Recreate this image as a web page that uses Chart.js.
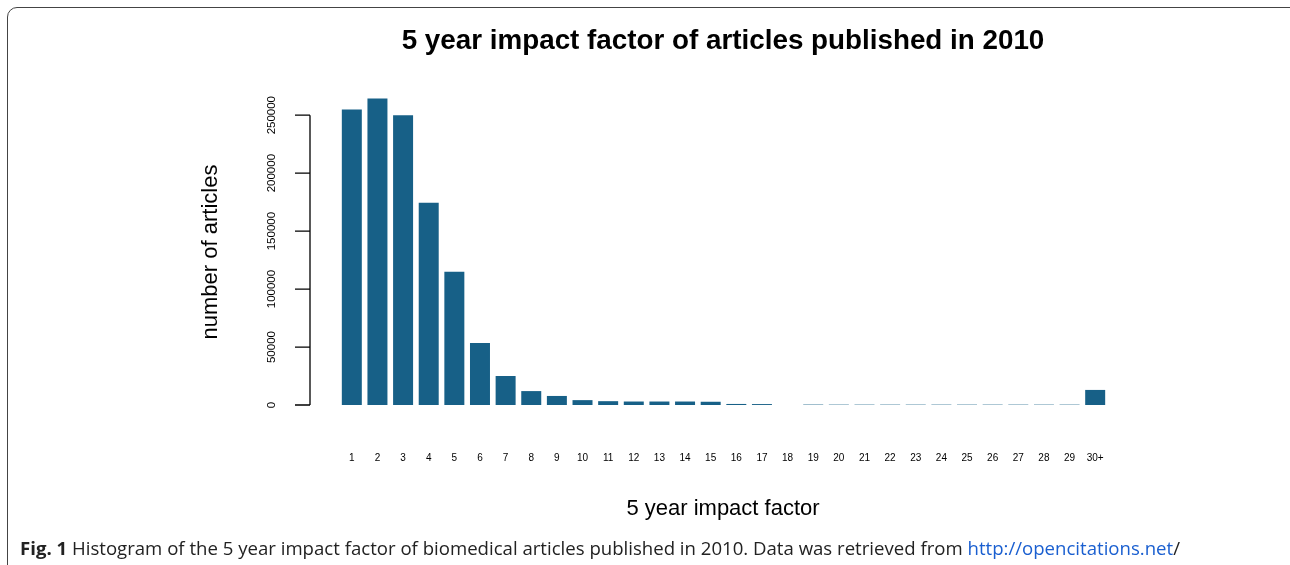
<!DOCTYPE html>
<html>
<head>
<script src="https://cdn.jsdelivr.net/npm/chart.js@4"></script>
<style>
  body { margin: 0; background: #fff; }
  #wrap { position: relative; width: 1290px; height: 565px; overflow: hidden; }
  #frame { position: absolute; left: 7px; top: 7px; width: 1300px; height: 600px; border: 1px solid #444; border-radius: 10px; }
  canvas { position: absolute; left: 0; top: 0; }
  #cap { position: absolute; left: 20px; top: 535px; font: 18.6px "Open Sans", sans-serif; color: #222; }
  #cap a { color: #1a5fd0; text-decoration: none; }
</style>
</head>
<body>
<div id="wrap">
  <div id="frame"></div>
  <canvas id="myChart" width="1290" height="565"></canvas>
  <div id="cap"><b>Fig. 1</b> Histogram of the 5 year impact factor of biomedical articles published in 2010. Data was retrieved from <a href="#">http://opencitations.net</a>/</div>
</div>
<script>
const labels = ['1','2','3','4','5','6','7','8','9','10','11','12','13','14','15','16','17','18','19','20','21','22','23','24','25','26','27','28','29','30+'];
const articles = [255000, 264500, 250000, 174500, 115000, 53500, 25000, 12000, 7800, 4200, 3300, 3000, 3000, 3000, 2800, 900, 800, 0, 350, 300, 300, 300, 300, 300, 300, 300, 300, 300, 300, 13000];
const yTicks = [0, 50000, 100000, 150000, 200000, 250000];

const rAxis = {
  id: 'rAxis',
  afterDraw(chart) {
    const c = chart.ctx, y = chart.scales.y, a = chart.chartArea;
    const ax = 310;
    const font = '"Liberation Sans", Arial, sans-serif';
    c.save();
    c.strokeStyle = '#000';
    c.lineWidth = 1.3;
    c.beginPath();
    c.moveTo(ax, y.getPixelForValue(yTicks[0]));
    c.lineTo(ax, y.getPixelForValue(yTicks[yTicks.length - 1]));
    yTicks.forEach(v => {
      const p = y.getPixelForValue(v);
      c.moveTo(ax, p); c.lineTo(ax - 15, p);
    });
    c.stroke();
    c.fillStyle = '#000';
    c.font = '11.5px ' + font;
    c.textAlign = 'center';
    c.textBaseline = 'middle';
    yTicks.forEach(v => {
      c.save();
      c.translate(272, y.getPixelForValue(v));
      c.rotate(-Math.PI / 2);
      c.fillText(String(v), 0, 0);
      c.restore();
    });
    c.font = '22px ' + font;
    c.save();
    c.translate(211, 252);
    c.rotate(-Math.PI / 2);
    c.fillText('number of articles', 0, 0);
    c.restore();
    c.fillText('5 year impact factor', 723, 509);
    c.font = 'bold 27.8px ' + font;
    c.fillText('5 year impact factor of articles published in 2010', 723, 41);
    c.restore();
  }
};

new Chart(document.getElementById('myChart').getContext('2d'), {
  type: 'bar',
  data: {
    labels: labels,
    datasets: [{
      label: 'articles',
      data: articles,
      backgroundColor: '#176087',
      borderWidth: 0,
      barPercentage: 0.78,
      categoryPercentage: 1.0
    }]
  },
  options: {
    responsive: false,
    animation: false,
    layout: { padding: { left: 331, right: 182, top: 92, bottom: 62 } },
    plugins: { legend: { display: false }, tooltip: { enabled: false } },
    scales: {
      x: {
        grid: { display: false },
        border: { display: false },
        ticks: { color: '#000', padding: 39, maxRotation: 0, autoSkip: false, font: { size: 10, family: '"Liberation Sans", Arial, sans-serif' } }
      },
      y: {
        min: 0, max: 270000,
        grid: { display: false },
        border: { display: false },
        ticks: { display: false }
      }
    }
  },
  plugins: [rAxis]
});
</script>
</body>
</html>
